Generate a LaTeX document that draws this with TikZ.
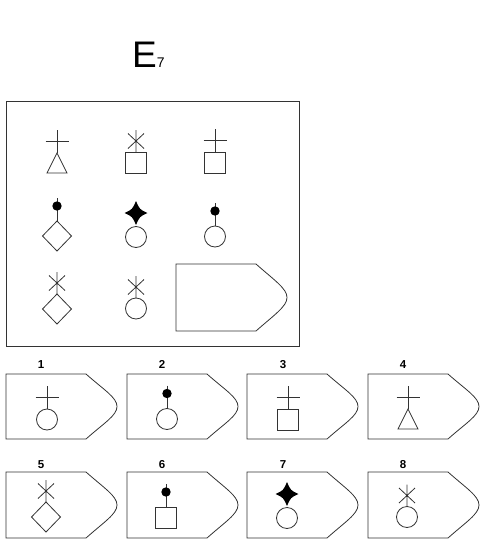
\documentclass[tikz,border=0pt]{standalone}
\usepackage{fontspec}
\setmainfont{Liberation Sans}
\newcommand\pentbox[3]{%
  \draw[ln] (#1,#2) -- (#1+80,#2) .. controls (#1+98,#2+16) and (#1+111,#2+#3/2-9) .. (#1+111,#2+#3/2)
    .. controls (#1+111,#2+#3/2+9) and (#1+98,#2+#3-16) .. (#1+80,#2+#3) -- (#1,#2+#3) -- cycle;}
\begin{document}
\begin{tikzpicture}[x=1pt,y=-1pt,
  ln/.style={draw=black!80, line width=0.8pt},
  lbl/.style={font=\bfseries\fontsize{11.5}{11.5}\selectfont, inner sep=0pt, anchor=base},
  pcircle/.pic={\draw[ln] (0,10.5) circle[radius=10.5];},
  psquare/.pic={\draw[ln] (-10.5,0) rectangle (10.5,21);},
  ptri/.pic={\draw[ln] (0,0) -- (10,20) -- (-10,20) -- cycle;},
  pdiam/.pic={\draw[ln] (0,0) -- (14.5,15) -- (0,30) -- (-14.5,15) -- cycle;},
  pcross/.pic={\draw[ln] (0,-23) -- (0,0) (-11.5,-11.5) -- (11.5,-11.5);},
  past/.pic={\draw[ln] (0,-22) -- (0,0) (-8,-18.5) -- (8,-3.5) (-8,-3.5) -- (8,-18.5);},
  pdot/.pic={\draw[ln] (0,-23) -- (0,0); \fill[black] (0,-15) circle[radius=4.7];},
  pstar/.pic={\fill[black] (0,-25.5) .. controls (3.6,-17.1) .. (11.5,-13.5) .. controls (3.6,-9.9) .. (0,-1.5)
      .. controls (-3.6,-9.9) .. (-11.5,-13.5) .. controls (-3.6,-17.1) .. cycle;}
]
\useasboundingbox (0,0) rectangle (486,544);
% title
\node[inner sep=0pt, anchor=base west] (title) at (132,67)
  {{\fontsize{37}{37}\selectfont E}{\fontsize{14}{14}\selectfont 7}};
% matrix box
\draw[ln] (6,101) rectangle (299,346);
% row 1
\pic at (57,153) {ptri};   \pic at (57,153) {pcross};
\pic at (136,152) {psquare}; \pic at (136,152) {past};
\pic at (215,152) {psquare}; \pic at (215,152) {pcross};
% row 2
\pic at (57,221) {pdiam};  \pic at (57,221) {pdot};
\pic at (136,226.5) {pcircle}; \pic at (136,226.5) {pstar};
\pic at (215,226) {pcircle}; \pic at (215,226) {pdot};
% row 3
\pic at (57,294) {pdiam};  \pic at (57,294) {past};
\pic at (136,298) {pcircle}; \pic at (136,298) {past};
\pentbox{176}{264}{67}
% answer options row 1
\pentbox{6}{374}{65}
\pentbox{127}{374}{65}
\pentbox{247}{374}{65}
\pentbox{368}{374}{65}
\node[lbl] (l1) at (41,368) {1};
\node[lbl] (l2) at (162,368) {2};
\node[lbl] (l3) at (283,368) {3};
\node[lbl] (l4) at (403,368) {4};
\pic at (47,409) {pcircle}; \pic at (47,409) {pcross};
\pic at (167,408.5) {pcircle}; \pic at (167,408.5) {pdot};
\pic at (288,409) {psquare}; \pic at (288,409) {pcross};
\pic at (408,409) {ptri}; \pic at (408,409) {pcross};
% answer options row 2
\pentbox{6}{472}{66}
\pentbox{127}{472}{66}
\pentbox{247}{472}{66}
\pentbox{368}{472}{66}
\node[lbl] (l5) at (41,468) {5};
\node[lbl] (l6) at (162,468) {6};
\node[lbl] (l7) at (283,468) {7};
\node[lbl] (l8) at (403,468) {8};
\pic at (46,502) {pdiam}; \pic at (46,502) {past};
\pic at (166,507) {psquare}; \pic at (166,507) {pdot};
\pic at (287,507.5) {pcircle}; \pic at (287,507.5) {pstar};
\pic at (407,506.5) {pcircle}; \pic at (407,506.5) {past};
\end{tikzpicture}
\end{document}
